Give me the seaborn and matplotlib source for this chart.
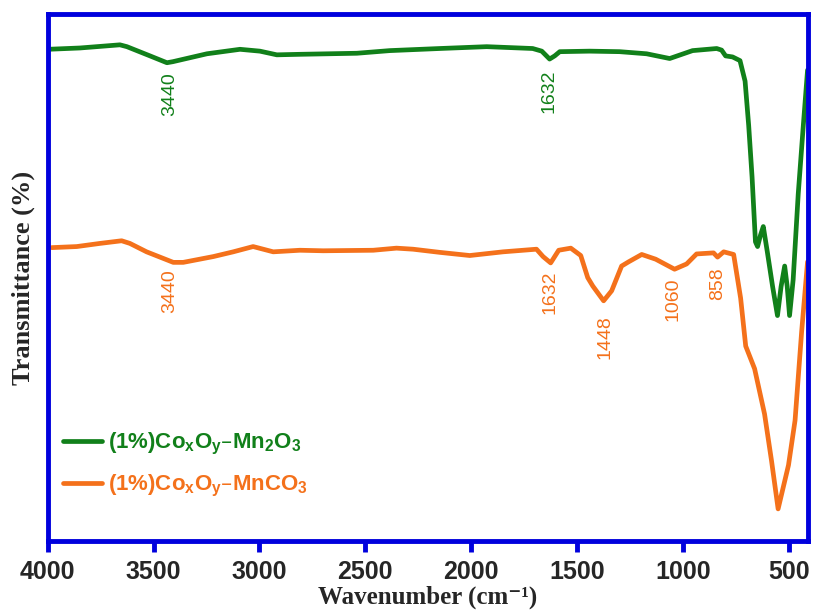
import numpy as np
import pandas as pd
import matplotlib
matplotlib.use('Agg')
import matplotlib.pyplot as plt
import seaborn as sns

# FTIR spectra (wavenumber in cm-1, transmittance in arbitrary %)
wn_mn2o3 = [3998, 3848, 3753, 3659, 3626, 3517, 3437, 3409, 3248, 3092, 2998, 2918,
            2809, 2540, 2385, 2149, 1927, 1710, 1667, 1630, 1606, 1582, 1441, 1299,
            1172, 1063, 955, 841, 818, 799, 766, 731, 707, 690, 674, 658, 648, 634,
            621, 602, 577, 554, 537, 520, 508, 497, 480, 456, 432, 412]
tr_mn2o3 = [93.35, 93.6, 93.9, 94.2, 93.85, 92.1, 90.8, 91.0, 92.5, 93.35, 93.0, 92.3,
            92.4, 92.6, 93.1, 93.5, 93.85, 93.5, 93.0, 91.5, 92.1, 92.9, 93.0, 92.9,
            92.5, 91.6, 93.1, 93.5, 93.2, 92.1, 91.9, 91.2, 87.3, 78.9, 69.1, 56.8, 55.9, 58.1,
            59.7, 54.9, 48.3, 42.8, 48.3, 52.2, 48.3, 42.8, 49.6, 65.9, 78.9, 89.4]

wn_mnco3 = [3981, 3863, 3753, 3651, 3612, 3533, 3407, 3360, 3218, 3124, 3030, 2935,
            2809, 2699, 2463, 2353, 2275, 2149, 2007, 1850, 1692, 1661, 1625, 1587,
            1530, 1483, 1450, 1426, 1375, 1337, 1290, 1257, 1195, 1129, 1040, 983,
            936, 856, 837, 808, 761, 728, 704, 662, 615, 582, 551, 502, 471, 440, 412]
tr_mnco3 = [55.7, 55.9, 56.5, 57.0, 56.5, 54.9, 52.9, 52.9, 54.0, 54.9, 55.9, 54.9,
            55.2, 55.1, 55.2, 55.6, 55.4, 54.8, 54.2, 54.9, 55.4, 54.0, 52.8, 55.2,
            55.6, 54.2, 50.0, 48.4, 45.6, 47.5, 52.2, 53.0, 54.4, 53.5, 51.6, 52.6,
            54.5, 54.7, 53.9, 54.9, 54.4, 46.1, 37.0, 32.7, 24.1, 15.2, 6.1, 14.4, 22.9, 39.7, 53.0]

# peak labels: text, x, top y
peaks_mn2o3 = [("3440", 3422, 89.0), ("1632", 1634, 89.6)]
peaks_mnco3 = [("3440", 3422, 51.5), ("1632", 1626, 51.3), ("1448", 1370, 42.9),
               ("1060", 1049, 50.0), ("858", 837, 52.0)]

xticks = [4000, 3500, 3000, 2500, 2000, 1500, 1000, 500]

green = '#11801a'
orange = '#f4711b'
blue = '#0000dd'

sns.set_theme(style='white')
plt.rcParams['font.family'] = ['Liberation Sans', 'DejaVu Sans']
plt.rcParams['mathtext.default'] = 'regular'

fig = plt.figure(figsize=(8.14, 6.10), dpi=100)
ax = fig.add_axes([0.0586, 0.1131, 0.934, 0.8635])

sns.lineplot(x=wn_mn2o3, y=tr_mn2o3, color=green, lw=3.4, ax=ax, estimator=None,
             label='(1%)Co$_x$O$_y$–Mn$_2$O$_3$')
sns.lineplot(x=wn_mnco3, y=tr_mnco3, color=orange, lw=3.4, ax=ax, estimator=None,
             label='(1%)Co$_x$O$_y$–MnCO$_3$')

for txt, x, y in peaks_mn2o3:
    ax.text(x, y, txt, color=green, fontsize=14, rotation=90, ha='center', va='top')
for txt, x, y in peaks_mnco3:
    ax.text(x, y, txt, color=orange, fontsize=14, rotation=90, ha='center', va='top')

ax.set_xlim(4000, 410)
ax.set_ylim(0, 100)
ax.set_xticks(xticks)
ax.set_yticks([])
ax.tick_params(axis='x', direction='out', length=8, width=3.5, color=blue,
               labelsize=18, pad=6, bottom=True)
for lab in ax.get_xticklabels():
    lab.set_fontweight('bold')
for sp in ax.spines.values():
    sp.set_color(blue)
    sp.set_linewidth(3.5)
    sp.set_visible(True)

ax.set_xlabel('Wavenumber (cm\u207b\u00b9)', fontsize=18, fontweight='bold',
              family=['Liberation Serif', 'DejaVu Serif'], labelpad=1)
ax.set_ylabel('Transmittance (%)', fontsize=19, fontweight='bold',
              family='Liberation Serif', labelpad=9)

leg = ax.legend(loc='center left', bbox_to_anchor=(0.008, 0.144), frameon=False,
                handlelength=1.75, handletextpad=0.3, labelspacing=0.7,
                borderaxespad=0, labelcolor='linecolor', prop={'weight': 'bold', 'size': 16})

fig.savefig('out.png', dpi=100)
